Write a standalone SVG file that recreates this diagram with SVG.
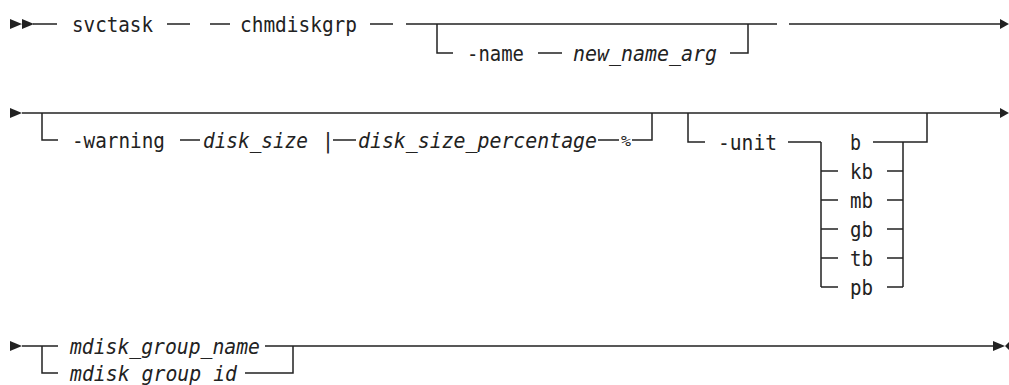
<svg xmlns="http://www.w3.org/2000/svg" width="1009" height="385" viewBox="0 0 1009 385">
<style>
.t{font-family:"DejaVu Sans Mono","Liberation Mono",monospace;font-size:21px;fill:#222}
.i{font-style:italic}
.l{stroke:#222;stroke-width:1.5;fill:none}
.a{fill:#222}
</style>
<rect width="1009" height="385" fill="#fff"/>
<g id="connectors">
<!-- row 1 -->
<path class="a" d="M10,19 L22,24 L10,29 Z M22,19 L34,24 L22,29 Z"/>
<path class="l" d="M33,24 H57 M167,24 H190 M210,24 H230 M370,24 H393 M406,24 H777 M789,24 H1003"/>
<path class="l" d="M437,24 V53 H453 M538,53 H562 M730,53 H748 V24"/>
<path class="a" d="M1000,19 L1009,24 L1000,29 Z"/>
<!-- row 2 -->
<path class="a" d="M10,108 L22,113 L10,118 Z"/>
<path class="l" d="M22,113 H1003"/>
<path class="a" d="M1000,108 L1009,113 L1000,118 Z"/>
<path class="l" d="M42,113 V140 H58 M180,140 H200 M333,140 H356 M598,140 H619 M632,140 H652 V113"/>
<path class="l" d="M688,113 V142 H705 M788,142 H821 M821,142 V287 M821,171 H838 M821,200 H838 M821,229 H838 M821,258 H838 M821,287 H838"/>
<path class="l" d="M873,142 H927 V113 M887,171 H903 M887,200 H903 M887,229 H903 M887,258 H903 M887,287 H903 M903,142 V287"/>
<!-- row 3 -->
<path class="a" d="M10,341 L22,346 L10,351 Z"/>
<path class="l" d="M22,346 H58 M42,346 V373 H58 M265,346 H995 M245,373 H293 V346"/>
<path class="a" d="M993,341 L1005,346 L993,351 Z M1009,342 L1005,346 L1009,350 Z"/>
</g>
<g id="n-svctask"><text class="t" x="72" y="32" textLength="81" lengthAdjust="spacingAndGlyphs">svctask</text></g>
<g id="n-chmdiskgrp"><text class="t" x="240" y="32" textLength="117" lengthAdjust="spacingAndGlyphs">chmdiskgrp</text></g>
<g id="n-name"><text class="t" x="467" y="61" textLength="57" lengthAdjust="spacingAndGlyphs">-name</text></g>
<g id="n-new_name_arg"><text class="t i" x="573" y="61" textLength="144" lengthAdjust="spacingAndGlyphs">new_name_arg</text></g>
<g id="n-warning"><text class="t" x="72" y="148" textLength="93" lengthAdjust="spacingAndGlyphs">-warning</text></g>
<g id="n-disk_size"><text class="t i" x="203" y="148" textLength="105" lengthAdjust="spacingAndGlyphs">disk_size</text></g>
<g id="n-bar"><text class="t" x="322" y="148" textLength="12" lengthAdjust="spacingAndGlyphs">|</text></g>
<g id="n-disk_size_percentage"><text class="t i" x="358" y="148" textLength="239" lengthAdjust="spacingAndGlyphs">disk_size_percentage</text></g>
<g id="n-percent"><text class="t i" x="621" y="146" style="font-size:14px" textLength="10" lengthAdjust="spacingAndGlyphs">%</text></g>
<g id="n-unit"><text class="t" x="718" y="150" textLength="59" lengthAdjust="spacingAndGlyphs">-unit</text></g>
<g id="n-b"><text class="t" x="850" y="150" textLength="11" lengthAdjust="spacingAndGlyphs">b</text></g>
<g id="n-kb"><text class="t" x="850" y="179" textLength="23" lengthAdjust="spacingAndGlyphs">kb</text></g>
<g id="n-mb"><text class="t" x="850" y="208" textLength="23" lengthAdjust="spacingAndGlyphs">mb</text></g>
<g id="n-gb"><text class="t" x="850" y="237" textLength="23" lengthAdjust="spacingAndGlyphs">gb</text></g>
<g id="n-tb"><text class="t" x="850" y="266" textLength="23" lengthAdjust="spacingAndGlyphs">tb</text></g>
<g id="n-pb"><text class="t" x="850" y="295" textLength="23" lengthAdjust="spacingAndGlyphs">pb</text></g>
<g id="n-mdisk_group_name"><text class="t i" x="70" y="354" textLength="190" lengthAdjust="spacingAndGlyphs">mdisk_group_name</text></g>
<g id="n-mdisk_group_id"><text class="t i" x="70" y="381" textLength="167" lengthAdjust="spacingAndGlyphs">mdisk_group_id</text></g>
</svg>
